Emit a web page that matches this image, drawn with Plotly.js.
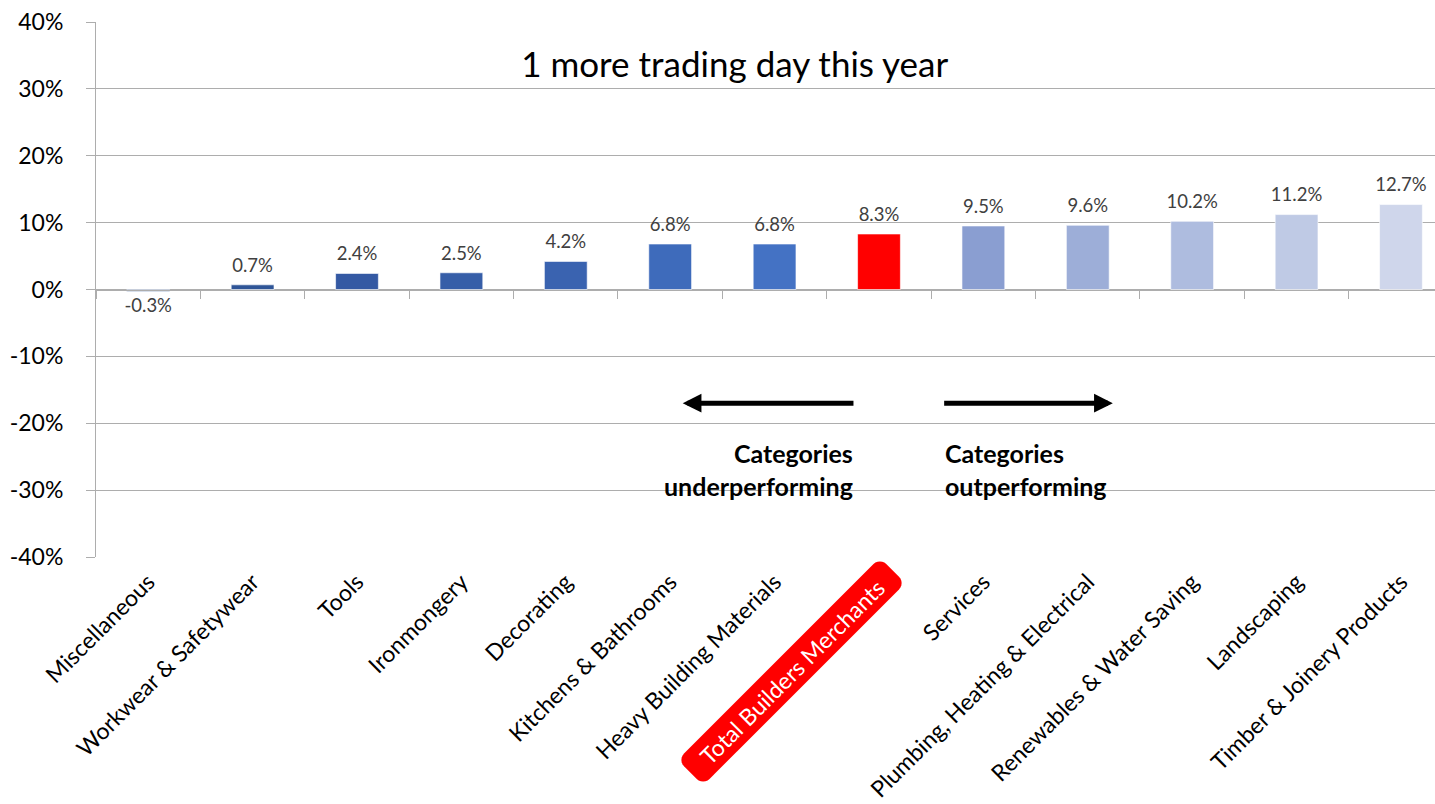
<!DOCTYPE html>
<html>
<head>
<meta charset="utf-8">
<script src="https://cdn.plot.ly/plotly-3.0.1.min.js"></script>
<style>html,body{margin:0;padding:0;background:#fff;}#chart{width:1435px;height:804px;}</style>
</head>
<body>
<div id="chart"></div>
<script>
const categories = ["Miscellaneous", "Workwear & Safetywear", "Tools", "Ironmongery", "Decorating",
  "Kitchens & Bathrooms", "Heavy Building Materials", "Total Builders Merchants", "Services",
  "Plumbing, Heating & Electrical", "Renewables & Water Saving", "Landscaping", "Timber & Joinery Products"];
const growthPct = [-0.3, 0.7, 2.4, 2.5, 4.2, 6.8, 6.8, 8.3, 9.5, 9.6, 10.2, 11.2, 12.7];
const barColors = ["#3A5E9E", "#2F5597", "#3459A3", "#365EA8", "#3A63B0", "#3E6BBB", "#4472C4",
  "#FF0000", "#8A9ED1", "#9DAED8", "#AEBCDF", "#BFCAE5", "#CFD6EB"];
const yTickVals = [-40, -30, -20, -10, 0, 10, 20, 30, 40];
const chartTitle = "1 more trading day this year";
const highlightIndex = 7;
const underText = "Categories<br>underperforming";
const outText = "Categories<br>outperforming";

const FONT = "Lato, 'Open Sans', sans-serif";
const GRID = "#ADADAD";

const tickText = categories.map((c, i) => i === highlightIndex ? "" : c);

// Layout geometry (pixels) used for the decorative rounded badge
const M = { l: 96, r: 0, t: 22, b: 247 };
const W = 1435, H = 804;
const plotW = W - M.l - M.r, plotH = H - M.t - M.b;

function roundedBadgePath(cx, cy, halfLen, halfThick, r, angleDeg) {
  const a = angleDeg * Math.PI / 180;
  const d = [Math.cos(a), -Math.sin(a)];
  const n = [Math.sin(a), Math.cos(a)];
  const pts = [];
  const corners = [
    [halfLen - r, -halfThick + r, -90, 0],
    [halfLen - r, halfThick - r, 0, 90],
    [-halfLen + r, halfThick - r, 90, 180],
    [-halfLen + r, -halfThick + r, 180, 270]
  ];
  corners.forEach(([uc, vc, a0, a1]) => {
    for (let k = 0; k <= 6; k++) {
      const t = (a0 + (a1 - a0) * k / 6) * Math.PI / 180;
      const u = uc + r * Math.cos(t), v = vc + r * Math.sin(t);
      const px = cx + u * d[0] + v * n[0];
      const py = cy + u * d[1] + v * n[1];
      pts.push([(px - M.l) / plotW, (H - M.b - py) / plotH]);
    }
  });
  return "M" + pts.map(p => p[0].toFixed(5) + "," + p[1].toFixed(5)).join("L") + "Z";
}

const badgeCx = 791.5, badgeCy = 671.5;

const traces = [
  {
    type: "bar",
    x: categories,
    y: growthPct,
    marker: { color: barColors, line: { color: "rgba(255,255,255,0.6)", width: 1 } },
    width: 0.41,
    hoverinfo: "x+y",
    showlegend: false
  },
  {
    type: "scatter",
    mode: "markers+text",
    x: categories,
    y: growthPct.map(v => Math.max(v, 0)),
    text: growthPct.map(v => v.toFixed(1) + "%"),
    textposition: growthPct.map(v => v < 0 ? "bottom center" : "top center"),
    marker: { size: 12, opacity: 0 },
    cliponaxis: false,
    textfont: { family: FONT, size: 18.5, color: "#404040" },
    hoverinfo: "skip",
    showlegend: false
  },
  {
    type: "bar",
    x: categories,
    y: categories.map(() => null),
    xaxis: "x2",
    yaxis: "y",
    hoverinfo: "skip",
    showlegend: false
  }
];

const layout = {
  width: W,
  height: H,
  margin: M,
  paper_bgcolor: "#ffffff",
  plot_bgcolor: "#ffffff",
  font: { family: FONT, color: "#000000" },
  title: {
    text: chartTitle,
    font: { family: FONT, size: 35, color: "#000000" },
    xref: "container", yref: "container",
    x: 0.512, y: 1 - 65 / 804,
    xanchor: "center", yanchor: "middle"
  },
  xaxis: {
    type: "category",
    categoryorder: "array",
    categoryarray: categories,
    range: [-0.5, 12.326],
    tickmode: "array",
    tickvals: categories,
    ticktext: tickText,
    tickangle: -45,
    tickfont: { family: FONT, size: 23, color: "#000000" },
    ticks: "",
    ticklabelstandoff: 6,
    showgrid: false,
    showline: false,
    zeroline: false,
    fixedrange: true
  },
  xaxis2: {
    type: "category",
    categoryorder: "array",
    categoryarray: categories,
    range: [-0.5, 12.326],
    overlaying: "x",
    anchor: "free",
    position: 0.5,
    side: "bottom",
    ticks: "outside",
    tickson: "boundaries",
    ticklen: 8,
    tickcolor: GRID,
    tickwidth: 1,
    showticklabels: false,
    showgrid: false,
    showline: true,
    linecolor: GRID,
    linewidth: 1.5,
    zeroline: false,
    fixedrange: true
  },
  yaxis: {
    range: [-40, 40],
    tickmode: "array",
    tickvals: yTickVals,
    ticktext: yTickVals.map(v => v + "%"),
    tickfont: { family: FONT, size: 23, color: "#000000" },
    ticks: "outside",
    ticklen: 9,
    tickcolor: GRID,
    ticklabelstandoff: 18,
    showgrid: true,
    gridcolor: GRID,
    gridwidth: 1,
    showline: true,
    linecolor: GRID,
    linewidth: 1,
    zeroline: false,
    fixedrange: true
  },
  shapes: [
    {
      type: "path",
      xref: "paper", yref: "paper",
      path: roundedBadgePath(badgeCx, badgeCy, 143, 18, 9, 45),
      fillcolor: "#FF0000",
      line: { width: 0 },
      layer: "above"
    }
  ],
  annotations: [
    {
      xref: "paper", yref: "paper",
      x: (badgeCx - M.l) / plotW,
      y: (H - M.b - badgeCy) / plotH,
      text: categories[highlightIndex],
      showarrow: false,
      textangle: -45,
      font: { family: FONT, size: 23, color: "#ffffff" },
      xanchor: "center", yanchor: "middle"
    },
    {
      xref: "x", yref: "y", axref: "x", ayref: "y",
      x: 5.12, y: -17, ax: 6.77, ay: -17,
      text: "", showarrow: true,
      arrowhead: 2, arrowsize: 0.75, arrowwidth: 5, arrowcolor: "#000000"
    },
    {
      xref: "x", yref: "y", axref: "x", ayref: "y",
      x: 9.24, y: -17, ax: 7.61, ay: -17,
      text: "", showarrow: true,
      arrowhead: 2, arrowsize: 0.75, arrowwidth: 5, arrowcolor: "#000000"
    },
    {
      xref: "x", yref: "y",
      x: 6.77, y: -26.9,
      text: "<b>" + underText + "</b>",
      showarrow: false, align: "right",
      xanchor: "right", yanchor: "middle",
      font: { family: FONT, size: 25, color: "#000000" }
    },
    {
      xref: "x", yref: "y",
      x: 7.61, y: -26.9,
      text: "<b>" + outText + "</b>",
      showarrow: false, align: "left",
      xanchor: "left", yanchor: "middle",
      font: { family: FONT, size: 25, color: "#000000" }
    }
  ]
};

Plotly.newPlot("chart", traces, layout, { displayModeBar: false, staticPlot: true });
</script>
</body>
</html>
